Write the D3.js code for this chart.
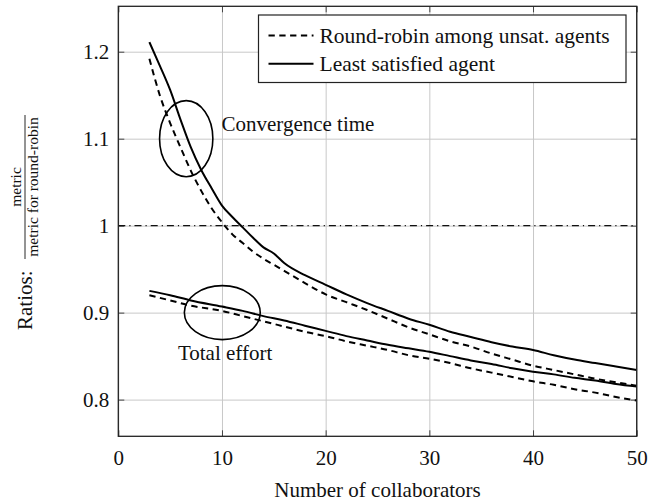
<!DOCTYPE html>
<html>
  <head>
    <meta charset="utf-8">
    <script src="https://d3js.org/d3.v7.min.js"></script>
    <style>
      body { margin: 0; background: #fff; }
      svg text { font-family: "Liberation Serif", "Times New Roman", Times, "DejaVu Serif", serif !important; fill: #111; }
    </style>
  </head>
  <body>
    <div id="my_dataviz"></div>
    <script>
    // collaborators (x values) for each curve
    var xConv = [3, 4, 5, 6, 7, 8, 9, 10, 11, 12, 13, 14, 15, 16, 18, 20, 22, 24, 26, 28, 30, 32, 34, 36, 38, 40, 42, 44, 46, 48, 50];
    // convergence time ratios
    var convRoundRobin = [1.192, 1.150, 1.118, 1.090, 1.063, 1.040, 1.020, 1.004, 0.990, 0.980, 0.970, 0.962, 0.955, 0.948, 0.934, 0.921, 0.912, 0.903, 0.893, 0.883, 0.875, 0.867, 0.861, 0.853, 0.846, 0.839, 0.834, 0.829, 0.824, 0.820, 0.816];
    var convLeastSat = [1.211, 1.184, 1.156, 1.122, 1.090, 1.064, 1.043, 1.023, 1.010, 0.998, 0.986, 0.975, 0.968, 0.957, 0.943, 0.932, 0.921, 0.911, 0.902, 0.893, 0.886, 0.878, 0.872, 0.866, 0.861, 0.857, 0.851, 0.846, 0.842, 0.838, 0.834];

    var xEffort = [3, 5, 7, 10, 12, 14, 16, 18, 20, 22, 24, 26, 28, 30, 32, 34, 36, 38, 40, 42, 44, 46, 48, 50];
    // total effort ratios
    var effortRoundRobin = [0.920, 0.914, 0.908, 0.902, 0.896, 0.890, 0.884, 0.878, 0.873, 0.867, 0.862, 0.857, 0.851, 0.847, 0.842, 0.836, 0.831, 0.826, 0.821, 0.817, 0.812, 0.808, 0.803, 0.799];
    var effortLeastSat = [0.925, 0.920, 0.914, 0.907, 0.902, 0.896, 0.891, 0.885, 0.879, 0.873, 0.868, 0.863, 0.859, 0.855, 0.850, 0.845, 0.841, 0.836, 0.832, 0.829, 0.825, 0.822, 0.818, 0.815];

    var xTicks = [0, 10, 20, 30, 40, 50];
    var yTicks = [0.8, 0.9, 1, 1.1, 1.2];
    var legendLabels = ["Round-robin among unsat. agents", "Least satisfied agent"];

    var serif = "'Liberation Serif', 'Times New Roman', Times, 'DejaVu Serif', serif";

    // set the dimensions and margins of the graph
    var margin = {top: 6.3, right: 25.3, bottom: 67.7, left: 118.3},
      width = 662 - margin.left - margin.right,
      height = 504 - margin.top - margin.bottom;

    var root = d3.select("#my_dataviz")
      .append("svg")
      .attr("width", 662)
      .attr("height", 504)
      .attr("font-family", serif);

    var svg = root.append("g")
      .attr("transform", "translate(" + margin.left + "," + margin.top + ")");

    var x = d3.scaleLinear().domain([0, 50]).range([0, width]);
    var y = d3.scaleLinear().domain([0.7578, 1.2522]).range([height, 0]);

    svg.append("clipPath").attr("id", "clip")
      .append("rect").attr("width", width).attr("height", height);

    // grid lines
    svg.append("g")
      .attr("transform", "translate(0," + height + ")")
      .call(d3.axisBottom(x).tickValues(xTicks).tickSize(-height).tickFormat(""))
      .call(function (g) { g.select(".domain").remove(); })
      .selectAll("line").attr("stroke", "#c8c8c8").attr("stroke-width", 1);
    svg.append("g")
      .call(d3.axisLeft(y).tickValues(yTicks).tickSize(-width).tickFormat(""))
      .call(function (g) { g.select(".domain").remove(); })
      .selectAll("line").attr("stroke", "#c8c8c8").attr("stroke-width", 1);

    // inner tick marks on all four sides
    var tickLen = 6;
    function ticks(axis, tr) {
      svg.append("g")
        .attr("transform", tr)
        .call(axis.tickSize(tickLen).tickFormat(""))
        .call(function (g) { g.select(".domain").remove(); })
        .selectAll("line").attr("stroke", "#444").attr("stroke-width", 1);
    }
    ticks(d3.axisTop(x).tickValues(xTicks), "translate(0," + height + ")");
    ticks(d3.axisBottom(x).tickValues(xTicks), "translate(0,0)");
    ticks(d3.axisRight(y).tickValues(yTicks), "translate(0,0)");
    ticks(d3.axisLeft(y).tickValues(yTicks), "translate(" + width + ",0)");

    // tick labels
    svg.append("g")
      .attr("transform", "translate(0," + height + ")")
      .call(d3.axisBottom(x).tickValues(xTicks).tickSize(0).tickPadding(14))
      .attr("font-family", serif)
      .call(function (g) { g.select(".domain").remove(); })
      .selectAll("text").style("font-size", "21px").attr("fill", "#111");
    svg.append("g")
      .call(d3.axisLeft(y).tickValues(yTicks).tickSize(0).tickPadding(9).tickFormat(d3.format("")))
      .attr("font-family", serif)
      .call(function (g) { g.select(".domain").remove(); })
      .selectAll("text").style("font-size", "21px").attr("fill", "#111");

    // reference line at 1
    svg.append("line")
      .attr("x1", 0).attr("x2", width)
      .attr("y1", y(1)).attr("y2", y(1))
      .attr("stroke", "#111").attr("stroke-width", 1.1)
      .attr("stroke-dasharray", "7,4,1.2,4");

    var plots = svg.append("g").attr("clip-path", "url(#clip)");

    function curve(xs, ys, dashed) {
      plots.append("path")
        .datum(ys)
        .attr("fill", "none")
        .attr("stroke", "#000")
        .attr("stroke-width", 2)
        .attr("stroke-dasharray", dashed ? "6.3,4.5" : null)
        .attr("d", d3.line()
          .x(function (d, i) { return x(xs[i]); })
          .y(function (d) { return y(d); })
          .curve(d3.curveMonotoneX));
    }
    curve(xConv, convRoundRobin, true);
    curve(xConv, convLeastSat, false);
    curve(xEffort, effortRoundRobin, true);
    curve(xEffort, effortLeastSat, false);

    // annotation ellipses
    function ellipse(cx, cy, rx, ry) {
      plots.append("ellipse")
        .attr("cx", x(cx)).attr("cy", y(cy))
        .attr("rx", x(rx) - x(0)).attr("ry", y(0) - y(ry))
        .attr("fill", "none").attr("stroke", "#000").attr("stroke-width", 1.6);
    }
    ellipse(6.55, 1.1, 2.57, 0.0437);
    ellipse(10.03, 0.9, 3.66, 0.031);

    svg.append("text")
      .attr("x", x(9.95)).attr("y", y(1.1) - 8)
      .style("font-size", "21px")
      .text("Convergence time");
    svg.append("text")
      .attr("x", x(10.3)).attr("y", y(0.849) + 3)
      .attr("text-anchor", "middle")
      .style("font-size", "21px")
      .text("Total effort");

    // axis frame
    svg.append("rect")
      .attr("width", width).attr("height", height)
      .attr("fill", "none").attr("stroke", "#222").attr("stroke-width", 1.3);

    // legend
    var legend = root.append("g").attr("transform", "translate(258.5,15)");
    legend.append("rect")
      .attr("width", 367.5).attr("height", 67.5)
      .attr("fill", "#fff").attr("stroke", "#222").attr("stroke-width", 1.2);
    legendLabels.forEach(function (label, i) {
      var ly = 20.5 + i * 28.3;
      legend.append("line")
        .attr("x1", 10).attr("x2", 55).attr("y1", ly).attr("y2", ly)
        .attr("stroke", "#000").attr("stroke-width", 2)
        .attr("stroke-dasharray", i === 0 ? "6.3,4.5" : null);
      legend.append("text")
        .attr("x", 61).attr("y", ly + 7)
        .style("font-size", "21.5px")
        .text(label);
    });

    // x axis label
    root.append("text")
      .attr("x", margin.left + width / 2).attr("y", 497)
      .attr("text-anchor", "middle")
      .style("font-size", "21px")
      .text("Number of collaborators");

    // y axis label: "Ratios:" followed by a fraction
    var ylab = root.append("g").attr("transform", "translate(25,222) rotate(-90)");
    ylab.append("text")
      .attr("x", -108).attr("y", 7)
      .style("font-size", "21px")
      .text("Ratios:");
    ylab.append("line")
      .attr("x1", -37).attr("x2", 107).attr("y1", 0).attr("y2", 0)
      .attr("stroke", "#111").attr("stroke-width", 0.9);
    ylab.append("text")
      .attr("x", 35).attr("y", -4)
      .attr("text-anchor", "middle")
      .style("font-size", "15.5px")
      .text("metric");
    ylab.append("text")
      .attr("x", 35).attr("y", 13)
      .attr("text-anchor", "middle")
      .style("font-size", "15.5px")
      .text("metric for round-robin");
    </script>
  </body>
</html>
